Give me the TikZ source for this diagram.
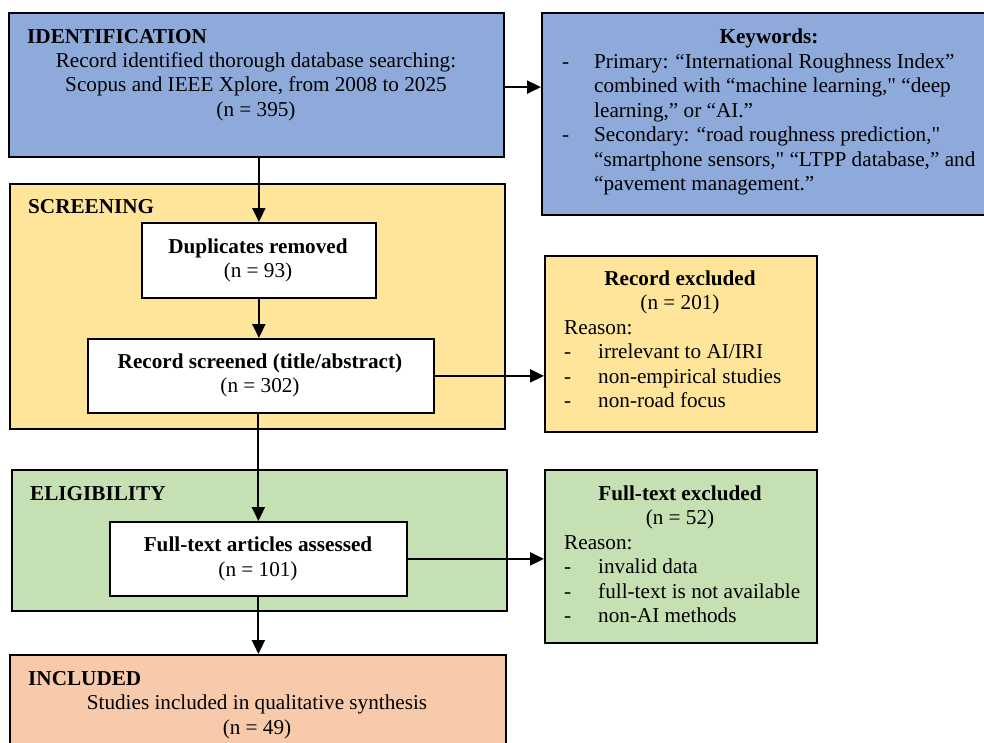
\documentclass[tikz,border=0pt]{standalone}
\usepackage{fontspec}
\newfontfamily\tnr{Liberation Serif}
\usetikzlibrary{arrows.meta}
\definecolor{idblue}{RGB}{142,170,219}
\definecolor{scyellow}{RGB}{255,229,153}
\definecolor{elgreen}{RGB}{197,224,179}
\definecolor{inorange}{RGB}{247,202,172}
\begin{document}
\begin{tikzpicture}[x=1pt,y=-1pt,
  box/.style={draw=black, line width=2.2pt, inner sep=0pt, anchor=north west},
  inbox/.style={box, fill=white, line width=1.8pt},
  arr/.style={line width=2pt, -{Triangle[length=14pt,width=13pt]}},
  txt/.style={inner sep=0pt, font=\tnr\fontsize{21.2}{24.5}\selectfont},
  lt/.style={txt, anchor=base west},
  ct/.style={txt, anchor=base},
]
\useasboundingbox (0,0) rectangle (984,742);

% ---------- boxes ----------
\node[box, fill=idblue, minimum width=495pt, minimum height=144pt] (ident) at (8,12) {};
\node[box, fill=idblue, minimum width=449pt, minimum height=202pt] (kw) at (541,12) {};
\node[box, fill=scyellow, minimum width=495pt, minimum height=245pt] (scr) at (9,183) {};
\node[inbox, minimum width=234pt, minimum height=75pt] (dup) at (141,222) {};
\node[inbox, minimum width=346pt, minimum height=74pt] (rs) at (87,338) {};
\node[box, fill=scyellow, minimum width=272pt, minimum height=176pt] (rex) at (544,255) {};
\node[box, fill=elgreen, minimum width=495pt, minimum height=141pt] (elig) at (11,469) {};
\node[inbox, minimum width=297pt, minimum height=74pt] (fta) at (109,521) {};
\node[box, fill=elgreen, minimum width=272pt, minimum height=173pt] (ftex) at (544,469) {};
\node[box, fill=inorange, minimum width=496pt, minimum height=100pt] (incl) at (9,654) {};

% ---------- identification ----------
\node[lt] (tid) at (27,43) {\textbf{IDENTIFICATION}};
\node[ct] (tid1) at (256,67) {Record identified thorough database searching:};
\node[ct] (tid2) at (256,91.5) {Scopus and IEEE Xplore, from 2008 to 2025};
\node[ct] (tid3) at (256,116) {(n = 395)};

% ---------- keywords ----------
\node[ct] (tkw) at (769,43) {\textbf{Keywords:}};
\node[lt] (kd1) at (562,68) {-};
\node[lt] (kw1) at (594,68) {Primary: “International Roughness Index”};
\node[lt] (kw2) at (594,92.5) {combined with “machine learning," “deep};
\node[lt] (kw3) at (594,117) {learning,” or “AI.”};
\node[lt] (kd2) at (562,141.5) {-};
\node[lt] (kw4) at (594,141.5) {Secondary: “road roughness prediction,"};
\node[lt] (kw5) at (594,166) {“smartphone sensors," “LTPP database,” and};
\node[lt] (kw6) at (594,190.5) {“pavement management.”};

% ---------- screening ----------
\node[lt] (tsc) at (28,213) {\textbf{SCREENING}};
\node[ct] (tdup1) at (258,253) {\textbf{Duplicates removed}};
\node[ct] (tdup2) at (258,277.5) {(n = 93)};
\node[ct] (trs1) at (260,368) {\textbf{Record screened (title/abstract)}};
\node[ct] (trs2) at (260,392.5) {(n = 302)};

% ---------- record excluded ----------
\node[ct] (trex1) at (680,285) {\textbf{Record excluded}};
\node[ct] (trex2) at (680,309.5) {(n = 201)};
\node[lt] (trex3) at (564,334) {Reason:};
\node[lt] (rd1) at (564,358.5) {-};
\node[lt] (ri1) at (598,358.5) {irrelevant to AI/IRI};
\node[lt] (rd2) at (564,383) {-};
\node[lt] (ri2) at (598,383) {non-empirical studies};
\node[lt] (rd3) at (564,407.5) {-};
\node[lt] (ri3) at (598,407.5) {non-road focus};

% ---------- eligibility ----------
\node[lt] (tel) at (30,500) {\textbf{ELIGIBILITY}};
\node[ct] (tfta1) at (258,551.5) {\textbf{Full-text articles assessed}};
\node[ct] (tfta2) at (258,576) {(n = 101)};

% ---------- full-text excluded ----------
\node[ct] (tfe1) at (680,500) {\textbf{Full-text excluded}};
\node[ct] (tfe2) at (680,524.5) {(n = 52)};
\node[lt] (tfe3) at (564,549) {Reason:};
\node[lt] (fd1) at (564,573.5) {-};
\node[lt] (fi1) at (598,573.5) {invalid data};
\node[lt] (fd2) at (564,598) {-};
\node[lt] (fi2) at (598,598) {full-text is not available};
\node[lt] (fd3) at (564,622.5) {-};
\node[lt] (fi3) at (598,622.5) {non-AI methods};

% ---------- included ----------
\node[lt] (tin) at (28,685) {\textbf{INCLUDED}};
\node[ct] (tin1) at (257,709.5) {Studies included in qualitative synthesis};
\node[ct] (tin2) at (257,734) {(n = 49)};

% ---------- connectors ----------
\draw[arr] (dup.north |- ident.south) -- (dup.north);
\draw[arr] (dup.south) -- (dup.south |- rs.north);
\draw[arr] (fta.north |- rs.south) -- (fta.north);
\draw[arr] (fta.south) -- (fta.south |- incl.north);
\draw[arr] ([yshift=-2pt]ident.east) -- ([yshift=-2pt]ident.east -| kw.west);
\draw[arr] (rs.east) -- (rs.east -| rex.west);
\draw[arr] (fta.east) -- (fta.east -| ftex.west);
\end{tikzpicture}
\end{document}
